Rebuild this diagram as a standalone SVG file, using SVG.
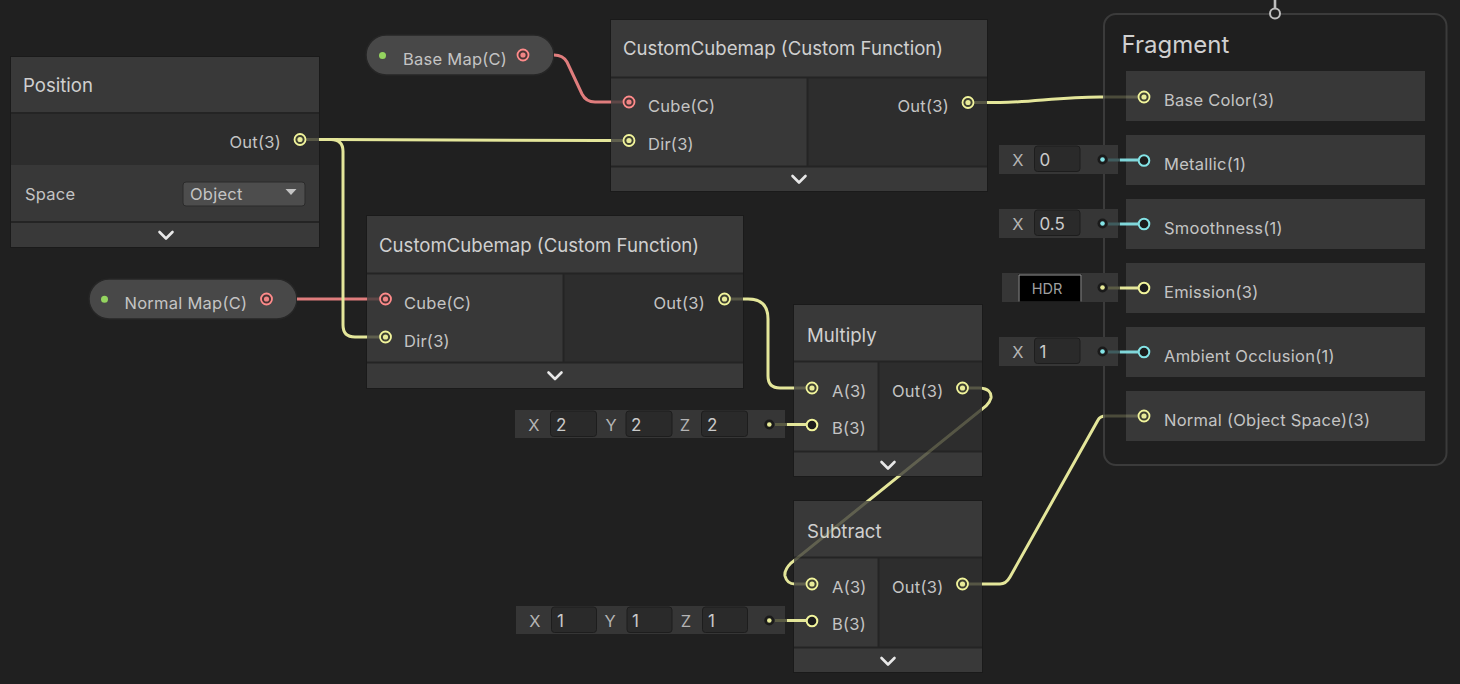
<svg xmlns="http://www.w3.org/2000/svg" width="1460" height="684" viewBox="0 0 1460 684">
<style>
text{font-family:Inter,"Noto Sans","Liberation Sans",sans-serif}
.hdr{fill:#393939}
.in{fill:#383838}
.out{fill:#2d2d2d}
.bar{fill:#393939}
.edge{fill:none;stroke:#1a1a1a;stroke-width:1}
.sep{stroke:#242424;stroke-width:2}
.title{font-size:18.6px;fill:#d0d0d0}
.lbl{font-size:16.5px;fill:#c4c4c4;letter-spacing:0.25px}
.chev{fill:none;stroke:#e8e8e8;stroke-width:2.6;stroke-linecap:round;stroke-linejoin:round}
.ry{fill:#3f4032;stroke:#f2f59c;stroke-width:1.8}
.dy{fill:#e8eb98}
.rr{fill:#4a3434;stroke:#ff8b8b;stroke-width:1.8}
.dr{fill:#f08585}
.hy{fill:#1c1c1c;stroke:#f2f59c;stroke-width:2}
.hc{fill:#1c1c1c;stroke:#84e4e7;stroke-width:2}
.idot{fill:#1a1a1a}
.ibox{fill:#363636}
.field{fill:#2a2a2a;stroke:#1d1d1d;stroke-width:1}
.val{font-size:17px;fill:#cacaca}
.axis{font-size:16.5px;fill:#b4b4b4}
.pill{fill:#484848;stroke:#262626;stroke-width:1.5}
.wy{fill:none;stroke:#e4e69a;stroke-width:3}
.wr{fill:none;stroke:#e07d7d;stroke-width:3}
.row{fill:#383838}
</style>
<defs>
<mask id="nodeMask" maskUnits="userSpaceOnUse" x="0" y="0" width="1460" height="684" color-interpolation="sRGB">
<rect x="0" y="0" width="1460" height="684" fill="#fff"/>
<g fill="#3a3a3a">
<rect x="11" y="57" width="308" height="190"/>
<rect x="611" y="20" width="376" height="171"/>
<rect x="367" y="216" width="376" height="172"/>
<rect x="794" y="305" width="188" height="171"/>
<rect x="794" y="501" width="188" height="171"/>
<rect x="1103" y="13" width="344" height="453" rx="12"/>
<rect x="366" y="35" width="188" height="40" rx="20"/>
<rect x="89" y="279" width="208" height="40" rx="20"/>
</g>
</mask>
</defs>
<rect x="0" y="0" width="1460" height="684" fill="#202020"/>

<g id="node-position">
<rect class="hdr" x="11" y="57" width="308" height="56"/>
<rect class="out" x="11" y="113" width="308" height="52"/>
<rect class="in" x="11" y="165" width="308" height="57"/>
<rect class="bar" x="11" y="222" width="308" height="25"/>
<line class="sep" x1="11" y1="113" x2="319" y2="113"/>
<line class="sep" x1="11" y1="222" x2="319" y2="222"/>
<rect class="edge" x="10.5" y="56.5" width="309" height="191"/>
<text class="title" x="23" y="92">Position</text>
<text class="lbl" x="281" y="148" text-anchor="end">Out(3)</text>
<circle class="ry" cx="300" cy="139.5" r="5.5"/><circle class="dy" cx="300" cy="139.5" r="2.6"/>
<text class="lbl" x="25" y="200">Space</text>
<rect x="183" y="182" width="122" height="24" rx="3" fill="#4d4d4d" stroke="#2a2a2a" stroke-width="1"/>
<text class="lbl" x="190" y="200">Object</text>
<path d="M285.5,189 L296.5,189 L291,195 Z" fill="#c4c4c4"/>
<path class="chev" d="M159.5,232 L166,238.5 L172.5,232"/>
</g>

<g id="node-basemap">
<rect class="pill" x="366" y="35" width="188" height="40" rx="20"/>
<circle cx="382.5" cy="55.5" r="3.5" fill="#94d45f"/>
<text class="lbl" x="403" y="65">Base Map(C)</text>
<circle class="rr" cx="523" cy="55" r="5.5"/><circle class="dr" cx="523" cy="55" r="2.6"/>
</g>

<g id="node-normalmap">
<rect class="pill" x="89" y="279" width="208" height="40" rx="20"/>
<circle cx="104.5" cy="299.3" r="3.5" fill="#94d45f"/>
<text class="lbl" x="124.5" y="309">Normal Map(C)</text>
<circle class="rr" cx="266.5" cy="299" r="5.5"/><circle class="dr" cx="266.5" cy="299" r="2.6"/>
</g>

<g id="node-cubemap-base">
<rect class="hdr" x="611" y="20" width="376" height="57"/>
<rect class="in" x="611" y="78" width="196" height="88"/>
<rect class="out" x="808" y="78" width="179" height="88"/>
<rect class="bar" x="611" y="167" width="376" height="24"/>
<line class="sep" x1="611" y1="77.5" x2="987" y2="77.5"/>
<line class="sep" x1="611" y1="166.5" x2="987" y2="166.5"/>
<line class="sep" x1="807.5" y1="78" x2="807.5" y2="166"/>
<rect class="edge" x="610.5" y="19.5" width="377" height="172"/>
<text class="title" x="623" y="55">CustomCubemap (Custom Function)</text>
<circle class="rr" cx="629" cy="102" r="5.5"/><circle class="dr" cx="629" cy="102" r="2.6"/>
<text class="lbl" x="648" y="111.5">Cube(C)</text>
<circle class="ry" cx="629" cy="140.5" r="5.5"/><circle class="dy" cx="629" cy="140.5" r="2.6"/>
<text class="lbl" x="648" y="150">Dir(3)</text>
<text class="lbl" x="949" y="111.5" text-anchor="end">Out(3)</text>
<circle class="ry" cx="968" cy="102.5" r="5.5"/><circle class="dy" cx="968" cy="102.5" r="2.6"/>
<path class="chev" d="M792.5,176 L799,182.5 L805.5,176"/>
</g>

<g id="node-cubemap-normal">
<rect class="hdr" x="367" y="216" width="376" height="57"/>
<rect class="in" x="367" y="274" width="196" height="88"/>
<rect class="out" x="564" y="274" width="179" height="88"/>
<rect class="bar" x="367" y="363" width="376" height="25"/>
<line class="sep" x1="367" y1="273.5" x2="743" y2="273.5"/>
<line class="sep" x1="367" y1="362.5" x2="743" y2="362.5"/>
<line class="sep" x1="563.5" y1="274" x2="563.5" y2="362"/>
<rect class="edge" x="366.5" y="215.5" width="377" height="173"/>
<text class="title" x="379" y="251.5">CustomCubemap (Custom Function)</text>
<circle class="rr" cx="385.5" cy="299" r="5.5"/><circle class="dr" cx="385.5" cy="299" r="2.6"/>
<text class="lbl" x="404" y="308.5">Cube(C)</text>
<circle class="ry" cx="385.5" cy="337" r="5.5"/><circle class="dy" cx="385.5" cy="337" r="2.6"/>
<text class="lbl" x="404" y="346.5">Dir(3)</text>
<text class="lbl" x="705" y="308.5" text-anchor="end">Out(3)</text>
<circle class="ry" cx="724.5" cy="299" r="5.5"/><circle class="dy" cx="724.5" cy="299" r="2.6"/>
<path class="chev" d="M548.5,372.5 L555,379 L561.5,372.5"/>
</g>

<g id="node-multiply">
<rect class="hdr" x="794" y="305" width="188" height="56"/>
<rect class="in" x="794" y="362" width="84" height="89"/>
<rect class="out" x="879" y="362" width="103" height="89"/>
<rect class="bar" x="794" y="452" width="188" height="24"/>
<line class="sep" x1="794" y1="361.5" x2="982" y2="361.5"/>
<line class="sep" x1="794" y1="451.5" x2="982" y2="451.5"/>
<line class="sep" x1="878.5" y1="362" x2="878.5" y2="451"/>
<rect class="edge" x="793.5" y="304.5" width="189" height="172"/>
<text class="title" x="807" y="341.5">Multiply</text>
<circle class="ry" cx="812" cy="388" r="5.5"/><circle class="dy" cx="812" cy="388" r="2.6"/>
<text class="lbl" x="832" y="397">A(3)</text>
<circle class="hy" cx="812" cy="425" r="5.3"/>
<text class="lbl" x="832" y="434">B(3)</text>
<text class="lbl" x="943.5" y="397" text-anchor="end">Out(3)</text>
<circle class="ry" cx="962.5" cy="388" r="5.5"/><circle class="dy" cx="962.5" cy="388" r="2.6"/>
<path class="chev" d="M881.5,462 L888,468.5 L894.5,462"/>
</g>

<g id="input-multiply-b">
<rect class="ibox" x="515" y="410" width="270" height="28"/>
<text class="axis" x="534" y="431" text-anchor="middle">X</text>
<rect class="field" x="550.5" y="411" width="46" height="25.5" rx="3"/>
<text class="val" x="556" y="431">2</text>
<text class="axis" x="611" y="431" text-anchor="middle">Y</text>
<rect class="field" x="626" y="411" width="46" height="25.5" rx="3"/>
<text class="val" x="631" y="431">2</text>
<text class="axis" x="685" y="431" text-anchor="middle">Z</text>
<rect class="field" x="701.5" y="411" width="46" height="25.5" rx="3"/>
<text class="val" x="707" y="431">2</text>
<circle class="idot" cx="769.3" cy="424.5" r="5"/><circle cx="769.3" cy="424.5" r="2.3" fill="#e8eb98"/>
<line x1="775" y1="424.5" x2="787" y2="424.5" stroke="#5a5b44" stroke-width="3"/>
<line x1="787" y1="424.5" x2="806.5" y2="424.5" stroke="#e4e69a" stroke-width="3"/>
</g>

<g id="node-subtract">
<rect class="hdr" x="794" y="501" width="188" height="56"/>
<rect class="in" x="794" y="558" width="84" height="89"/>
<rect class="out" x="879" y="558" width="103" height="89"/>
<rect class="bar" x="794" y="648" width="188" height="24"/>
<line class="sep" x1="794" y1="557.5" x2="982" y2="557.5"/>
<line class="sep" x1="794" y1="647.5" x2="982" y2="647.5"/>
<line class="sep" x1="878.5" y1="558" x2="878.5" y2="647"/>
<rect class="edge" x="793.5" y="500.5" width="189" height="172"/>
<text class="title" x="807" y="537.5">Subtract</text>
<circle class="ry" cx="812" cy="584" r="5.5"/><circle class="dy" cx="812" cy="584" r="2.6"/>
<text class="lbl" x="832" y="593">A(3)</text>
<circle class="hy" cx="812" cy="621" r="5.3"/>
<text class="lbl" x="832" y="630">B(3)</text>
<text class="lbl" x="943.5" y="593" text-anchor="end">Out(3)</text>
<circle class="ry" cx="962.5" cy="584" r="5.5"/><circle class="dy" cx="962.5" cy="584" r="2.6"/>
<path class="chev" d="M881.5,658 L888,664.5 L894.5,658"/>
</g>

<g id="input-subtract-b">
<rect class="ibox" x="516" y="606" width="269" height="28"/>
<text class="axis" x="535" y="627" text-anchor="middle">X</text>
<rect class="field" x="551.5" y="607" width="45" height="25.5" rx="3"/>
<text class="val" x="557" y="627">1</text>
<text class="axis" x="610" y="627" text-anchor="middle">Y</text>
<rect class="field" x="627" y="607" width="45" height="25.5" rx="3"/>
<text class="val" x="632" y="627">1</text>
<text class="axis" x="686" y="627" text-anchor="middle">Z</text>
<rect class="field" x="702.5" y="607" width="45" height="25.5" rx="3"/>
<text class="val" x="708" y="627">1</text>
<circle class="idot" cx="769.3" cy="620.5" r="5"/><circle cx="769.3" cy="620.5" r="2.3" fill="#e8eb98"/>
<line x1="775" y1="620.5" x2="787" y2="620.5" stroke="#5a5b44" stroke-width="3"/>
<line x1="787" y1="620.5" x2="806.5" y2="620.5" stroke="#e4e69a" stroke-width="3"/>
</g>

<g id="node-fragment">
<rect x="1104" y="14" width="342.5" height="451" rx="12" fill="#1f1f1f" stroke="#3b3b3b" stroke-width="2"/>
<line x1="1275" y1="0" x2="1275" y2="8.5" stroke="#bdbdbd" stroke-width="2.6"/>
<circle cx="1275" cy="13.5" r="5" fill="#202020" stroke="#bdbdbd" stroke-width="2"/>
<text x="1121.5" y="52.5" font-size="24" fill="#d0d0d0">Fragment</text>
<rect class="row" x="1126" y="71" width="299" height="50"/>
<rect class="row" x="1126" y="135" width="299" height="50"/>
<rect class="row" x="1126" y="199" width="299" height="50"/>
<rect class="row" x="1126" y="263" width="299" height="50"/>
<rect class="row" x="1126" y="327" width="299" height="50"/>
<rect class="row" x="1126" y="391" width="299" height="50"/>
<circle class="ry" cx="1144" cy="97" r="5.5"/><circle class="dy" cx="1144" cy="97" r="2.6"/>
<text class="lbl" x="1164" y="106">Base Color(3)</text>
<circle class="hc" cx="1144" cy="160.5" r="5.3"/>
<text class="lbl" x="1164" y="170">Metallic(1)</text>
<circle class="hc" cx="1144" cy="224" r="5.3"/>
<text class="lbl" x="1164" y="233.5">Smoothness(1)</text>
<circle class="hy" cx="1144" cy="288" r="5.3"/>
<text class="lbl" x="1164" y="297.5">Emission(3)</text>
<circle class="hc" cx="1144" cy="352" r="5.3"/>
<text class="lbl" x="1164" y="361.5">Ambient Occlusion(1)</text>
<circle class="ry" cx="1144" cy="416" r="5.5"/><circle class="dy" cx="1144" cy="416" r="2.6"/>
<text class="lbl" x="1164" y="425.5">Normal (Object Space)(3)</text>
</g>

<g id="input-metallic">
<rect class="ibox" x="999" y="145" width="119" height="29"/>
<text class="axis" x="1018" y="166" text-anchor="middle">X</text>
<rect class="field" x="1034.5" y="146" width="45.5" height="25.5" rx="3"/>
<text class="val" x="1039.5" y="166">0</text>
<circle class="idot" cx="1102.5" cy="159.5" r="5"/><circle cx="1102.5" cy="159.5" r="2.3" fill="#84e4e7"/>
<line x1="1108" y1="160" x2="1120" y2="160" stroke="#3f5c5e" stroke-width="3"/>
<line x1="1120" y1="160" x2="1138.5" y2="160" stroke="#80d7da" stroke-width="3"/>
</g>

<g id="input-smoothness">
<rect class="ibox" x="999" y="209" width="119" height="29"/>
<text class="axis" x="1018" y="230" text-anchor="middle">X</text>
<rect class="field" x="1034.5" y="210" width="45.5" height="25.5" rx="3"/>
<text class="val" x="1039.5" y="230">0.5</text>
<circle class="idot" cx="1102.5" cy="223.5" r="5"/><circle cx="1102.5" cy="223.5" r="2.3" fill="#84e4e7"/>
<line x1="1108" y1="224" x2="1120" y2="224" stroke="#3f5c5e" stroke-width="3"/>
<line x1="1120" y1="224" x2="1138.5" y2="224" stroke="#80d7da" stroke-width="3"/>
</g>

<g id="input-emission">
<rect class="ibox" x="1002" y="273" width="116" height="29"/>
<rect x="1018.5" y="274.5" width="63" height="27" fill="#000"/>
<path d="M1019,301.5 V275 H1081 V301.5" fill="none" stroke="#9a9a9a" stroke-width="1"/>
<text x="1047" y="294" font-size="14.5" fill="#a0a0a0" text-anchor="middle">HDR</text>
<circle class="idot" cx="1102.5" cy="287.5" r="5"/><circle cx="1102.5" cy="287.5" r="2.3" fill="#e8eb98"/>
<line x1="1108" y1="288" x2="1120" y2="288" stroke="#5a5b44" stroke-width="3"/>
<line x1="1120" y1="288" x2="1138.5" y2="288" stroke="#e4e69a" stroke-width="3"/>
</g>

<g id="input-ao">
<rect class="ibox" x="999" y="337" width="119" height="29"/>
<text class="axis" x="1018" y="358" text-anchor="middle">X</text>
<rect class="field" x="1034.5" y="338" width="45.5" height="25.5" rx="3"/>
<text class="val" x="1039.5" y="358">1</text>
<circle class="idot" cx="1102.5" cy="351.5" r="5"/><circle cx="1102.5" cy="351.5" r="2.3" fill="#84e4e7"/>
<line x1="1108" y1="352" x2="1120" y2="352" stroke="#3f5c5e" stroke-width="3"/>
<line x1="1120" y1="352" x2="1138.5" y2="352" stroke="#80d7da" stroke-width="3"/>
</g>

<g id="connectors" mask="url(#nodeMask)">
<path class="wr" d="M554,55 Q563,55 567,62 L582,94 Q586,102 595,102 H623"/>
<path class="wr" d="M297,299 H379.5"/>
<path class="wy" d="M306,139.5 H330 L600,140.5 H623"/>
<path class="wy" d="M306,139.5 H331 Q343,139.5 343,151.5 V325 Q343,337 355,337 H379.5"/>
<path class="wy" d="M730.5,299 H748 Q768,299 768,319 V376 Q768,388 780,388 H806"/>
<path class="wy" d="M974,102.5 H1000 C1030,102.5 1060,97 1100,97 H1138"/>
<path class="wy" d="M968.5,388 H980 Q992,389 991,398 Q990,402 986,406 L791,563 Q784,570 785,576 Q787,584 795,584 H806"/>
<path class="wy" d="M968.5,584 H1000 Q1006,584 1010,577 L1098,420 Q1100,416 1106,416 H1138"/>
</g>
</svg>
